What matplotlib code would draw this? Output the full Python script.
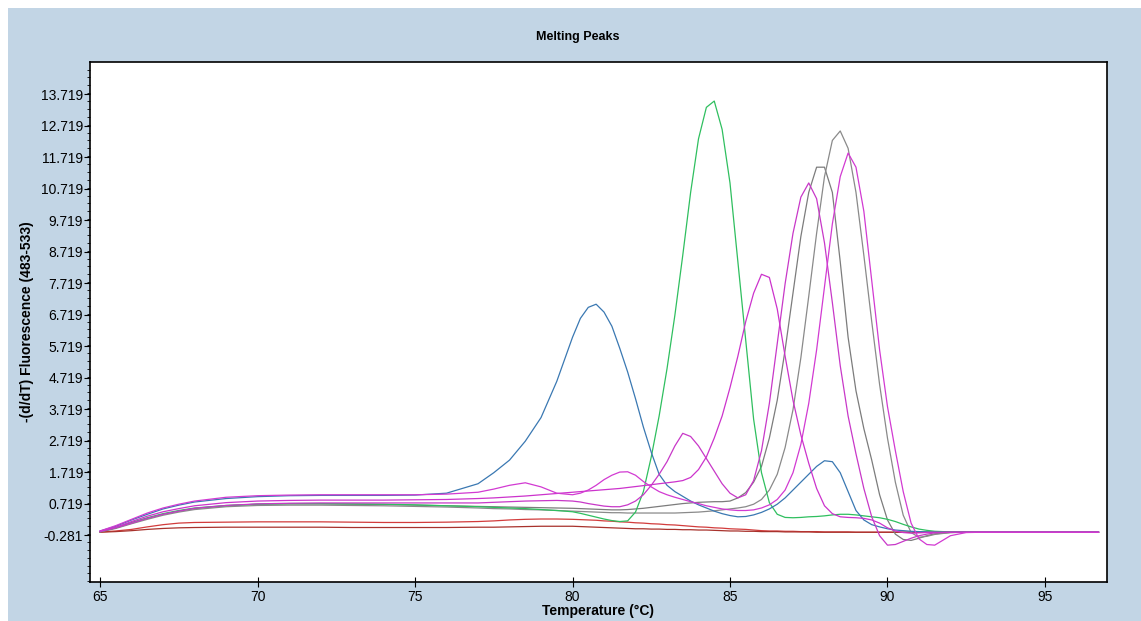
import matplotlib
matplotlib.use("Agg")
import matplotlib.pyplot as plt
from matplotlib.patches import Rectangle
from matplotlib.ticker import MultipleLocator

plt.rcParams['font.family'] = ['Liberation Sans', 'DejaVu Sans']

# temperature grid (°C)
temp = [65, 65.5, 66, 66.5, 67, 67.5,
        68, 69, 70, 71, 72, 73, 74, 75, 76, 77,
        77.5, 78, 78.5, 79, 79.5, 80,
        80.25, 80.5, 80.75, 81, 81.25, 81.5, 81.75, 82,
        82.25, 82.5, 82.75, 83, 83.25, 83.5, 83.75, 84,
        84.25, 84.5, 84.75, 85, 85.25, 85.5, 85.75, 86,
        86.25, 86.5, 86.75, 87, 87.25, 87.5, 87.75, 88,
        88.25, 88.5, 88.75, 89, 89.25, 89.5, 89.75, 90,
        90.25, 90.5, 90.75, 91, 91.25, 91.5, 92,
        92.5, 93, 94, 95, 96.7]

# -(d/dT) fluorescence per sample
red_1 = [-0.18, -0.15, -0.1, -0.02, 0.05, 0.1,
         0.12, 0.13, 0.14, 0.14, 0.14, 0.13, 0.12, 0.12, 0.13, 0.15,
         0.17, 0.2, 0.22, 0.23, 0.23, 0.22,
         0.21, 0.2, 0.19, 0.17, 0.16, 0.14, 0.13, 0.11,
         0.1, 0.08, 0.07, 0.05, 0.04, 0.02, 0.0, -0.02,
         -0.03, -0.05, -0.06, -0.08, -0.09, -0.1, -0.12, -0.14,
         -0.15, -0.15, -0.16, -0.16, -0.17, -0.17, -0.17, -0.18,
         -0.18, -0.18, -0.18, -0.19, -0.19, -0.19, -0.19, -0.19,
         -0.19, -0.19, -0.19, -0.19, -0.19, -0.19, -0.19,
         -0.19, -0.19, -0.19, -0.19, -0.19]

red_2 = [-0.19, -0.17, -0.14, -0.1, -0.07, -0.05,
         -0.04, -0.03, -0.03, -0.03, -0.03, -0.04, -0.04, -0.04, -0.04, -0.03,
         -0.03, -0.02, -0.01, 0.0, 0.0, 0.0,
         -0.01, -0.02, -0.03, -0.04, -0.05, -0.06, -0.07, -0.08,
         -0.08, -0.09, -0.09, -0.1, -0.1, -0.11, -0.11, -0.12,
         -0.12, -0.13, -0.14, -0.15, -0.15, -0.16, -0.16, -0.17,
         -0.17, -0.17, -0.18, -0.18, -0.18, -0.18, -0.19, -0.19,
         -0.19, -0.19, -0.19, -0.19, -0.19, -0.19, -0.19, -0.19,
         -0.19, -0.19, -0.19, -0.19, -0.19, -0.19, -0.19,
         -0.19, -0.19, -0.19, -0.19, -0.19]

gray_a = [-0.17, -0.05, 0.1, 0.25, 0.38, 0.48,
          0.56, 0.65, 0.7, 0.71, 0.71, 0.7, 0.69, 0.67, 0.65, 0.63,
          0.62, 0.61, 0.6, 0.59, 0.58, 0.57,
          0.56, 0.55, 0.54, 0.53, 0.52, 0.52, 0.53, 0.55,
          0.57, 0.6, 0.63, 0.66, 0.69, 0.72, 0.74, 0.76,
          0.77, 0.78, 0.78, 0.8, 0.9, 1.07, 1.4, 1.9,
          2.8, 4.0, 5.6, 7.4, 9.2, 10.6, 11.4, 11.4,
          10.6, 8.4, 6.0, 4.3, 3.1, 2.1, 1.0, 0.2,
          -0.25, -0.42, -0.45, -0.38, -0.3, -0.24, -0.2,
          -0.19, -0.19, -0.19, -0.19, -0.19]

gray_b = [-0.18, -0.07, 0.08, 0.22, 0.35, 0.45,
          0.53, 0.62, 0.66, 0.67, 0.67, 0.66, 0.65, 0.63, 0.61, 0.58,
          0.56, 0.55, 0.53, 0.52, 0.5, 0.48,
          0.47, 0.46, 0.45, 0.44, 0.43, 0.43, 0.42, 0.42,
          0.42, 0.42, 0.42, 0.42, 0.42, 0.43, 0.44, 0.45,
          0.47, 0.49, 0.52, 0.55, 0.58, 0.62, 0.7, 0.85,
          1.15, 1.65, 2.5, 3.7, 5.35, 7.3, 9.3, 11.1,
          12.25, 12.55, 12.0, 10.6, 8.6, 6.5, 4.5, 2.8,
          1.4, 0.35, -0.2, -0.35, -0.32, -0.26, -0.2,
          -0.19, -0.19, -0.19, -0.19, -0.19]

green = [-0.17, -0.05, 0.12, 0.27, 0.4, 0.5,
         0.58, 0.66, 0.7, 0.72, 0.72, 0.71, 0.7, 0.68, 0.65, 0.62,
         0.6, 0.58, 0.56, 0.53, 0.5, 0.46,
         0.41, 0.35, 0.29, 0.23, 0.18, 0.15, 0.17, 0.45,
         1.1, 2.2, 3.5, 5.0, 6.7, 8.6, 10.6, 12.3,
         13.3, 13.5, 12.6, 10.9, 8.4, 5.9, 3.4, 1.7,
         0.75, 0.38, 0.28, 0.27, 0.28, 0.3, 0.31, 0.33,
         0.36, 0.38, 0.38, 0.36, 0.33, 0.3, 0.27, 0.22,
         0.15, 0.06, -0.02, -0.09, -0.13, -0.16, -0.18,
         -0.19, -0.19, -0.19, -0.19, -0.19]

blue = [-0.15, 0.0, 0.2, 0.38, 0.55, 0.67,
        0.77, 0.88, 0.94, 0.97, 0.98, 0.98, 0.98, 0.99, 1.05, 1.35,
        1.7, 2.1, 2.7, 3.45, 4.6, 6.0,
        6.6, 6.95, 7.05, 6.8, 6.35, 5.65, 4.9, 4.05,
        3.15, 2.35, 1.65, 1.3, 1.1, 0.95, 0.8, 0.68,
        0.58, 0.48, 0.4, 0.34, 0.3, 0.31, 0.36, 0.44,
        0.55, 0.7, 0.9, 1.15, 1.4, 1.65, 1.9, 2.08,
        2.05, 1.7, 1.1, 0.5, 0.2, 0.05, -0.02, -0.08,
        -0.12, -0.14, -0.16, -0.17, -0.18, -0.19, -0.19,
        -0.19, -0.19, -0.19, -0.19, -0.19]

magenta_a = [-0.17, -0.05, 0.1, 0.25, 0.38, 0.48,
             0.57, 0.66, 0.71, 0.73, 0.74, 0.74, 0.74, 0.74, 0.74, 0.74,
             0.76, 0.78, 0.8, 0.81, 0.82, 0.8,
             0.77, 0.72, 0.68, 0.64, 0.62, 0.62, 0.68, 0.8,
             1.0, 1.3, 1.65, 2.05, 2.55, 2.95, 2.85, 2.55,
             2.15, 1.75, 1.35, 1.05, 0.9, 1.0, 1.45, 2.4,
             3.9, 5.8, 7.7, 9.3, 10.45, 10.9, 10.4, 9.0,
             7.1, 5.1, 3.5, 2.3, 1.2, 0.3, -0.3, -0.6,
             -0.58, -0.48, -0.38, -0.3, -0.25, -0.21, -0.19,
             -0.19, -0.19, -0.19, -0.19, -0.19]

magenta_b = [-0.15, 0.02, 0.22, 0.42, 0.58, 0.7,
             0.8, 0.92, 0.97, 0.99, 1.0, 1.0, 1.0, 1.0, 1.02, 1.08,
             1.18, 1.3, 1.38, 1.25, 1.05, 1.0,
             1.05, 1.15, 1.3, 1.48, 1.62, 1.72, 1.73, 1.62,
             1.42, 1.25, 1.1, 1.0, 0.92, 0.85, 0.78, 0.72,
             0.65, 0.6, 0.55, 0.52, 0.5, 0.5, 0.52, 0.58,
             0.68, 0.85, 1.15, 1.7, 2.6, 3.9, 5.6, 7.6,
             9.6, 11.1, 11.85, 11.4, 10.0, 7.8, 5.6, 3.8,
             2.4, 1.1, 0.1, -0.4, -0.58, -0.6, -0.3,
             -0.2, -0.19, -0.19, -0.19, -0.19]

magenta_c = [-0.16, -0.03, 0.15, 0.32, 0.46, 0.56,
             0.65, 0.75, 0.8, 0.82, 0.83, 0.83, 0.83, 0.84, 0.85, 0.88,
             0.9, 0.93, 0.96, 1.0, 1.04, 1.08,
             1.1, 1.12, 1.14, 1.16, 1.18, 1.2, 1.23, 1.26,
             1.29, 1.32, 1.35, 1.38, 1.41, 1.45, 1.55, 1.8,
             2.2, 2.8, 3.5, 4.4, 5.4, 6.5, 7.4, 8.0,
             7.9, 6.9, 5.4, 4.0, 2.9, 2.0, 1.2, 0.65,
             0.4, 0.3, 0.28, 0.27, 0.25, 0.2, 0.1, -0.05,
             -0.15, -0.2, -0.22, -0.21, -0.2, -0.19, -0.19,
             -0.19, -0.19, -0.19, -0.19, -0.19]

series = [
    (red_1, '#d23c3c'),
    (red_2, '#a8322c'),
    (gray_a, '#7c7c7c'),
    (gray_b, '#8a8a8a'),
    (green, '#2fbf5f'),
    (blue, '#3a78b2'),
    (magenta_c, '#cc33cc'),
    (magenta_a, '#c838c8'),
    (magenta_b, '#d23ad2'),
]

y_ticks = [-0.281, 0.719, 1.719, 2.719, 3.719, 4.719, 5.719, 6.719,
           7.719, 8.719, 9.719, 10.719, 11.719, 12.719, 13.719]
x_ticks = [65, 70, 75, 80, 85, 90, 95]

W, H = 1141, 621
fig = plt.figure(figsize=(W / 100, H / 100), dpi=100)
fig.patch.set_facecolor('white')
fig.add_artist(Rectangle((8 / W, 0), 1 - 8 / W, 1 - 8 / H, transform=fig.transFigure,
                         facecolor='#c2d5e5', edgecolor='none', zorder=0))

ax = fig.add_axes([90 / W, 1 - 582 / H, (1107 - 90) / W, (582 - 62) / H])
ax.set_facecolor('white')

for vals, col in series:
    ax.plot(temp, vals, color=col, lw=0.9)

ax.set_xlim(64.68, 96.97)
ax.set_ylim(-1.77, 14.74)

ax.set_yticks(y_ticks)
ax.set_yticklabels(['%.3f' % v for v in y_ticks])
ax.yaxis.set_minor_locator(MultipleLocator(0.25))
ax.set_xticks(x_ticks)

ax.tick_params(axis='y', which='major', direction='out', length=4, width=0.8,
               labelsize=10, pad=1)
ax.tick_params(axis='y', which='minor', direction='out', length=2, width=0.6)
ax.tick_params(axis='x', which='major', direction='inout', length=7, width=0.8,
               labelsize=10, pad=2)

for s in ax.spines.values():
    s.set_linewidth(1.2)
    s.set_color('black')

ax.set_xlabel('Temperature (°C)', fontsize=10, fontweight='bold', labelpad=0)
ax.set_ylabel('-(d/dT) Fluorescence (483-533)', fontsize=10, fontweight='bold', labelpad=5)

fig.text(0.506, 1 - 37 / H, 'Melting Peaks', ha='center', va='center',
         fontsize=9, fontweight='bold')

fig.savefig('out.png', dpi=100)
